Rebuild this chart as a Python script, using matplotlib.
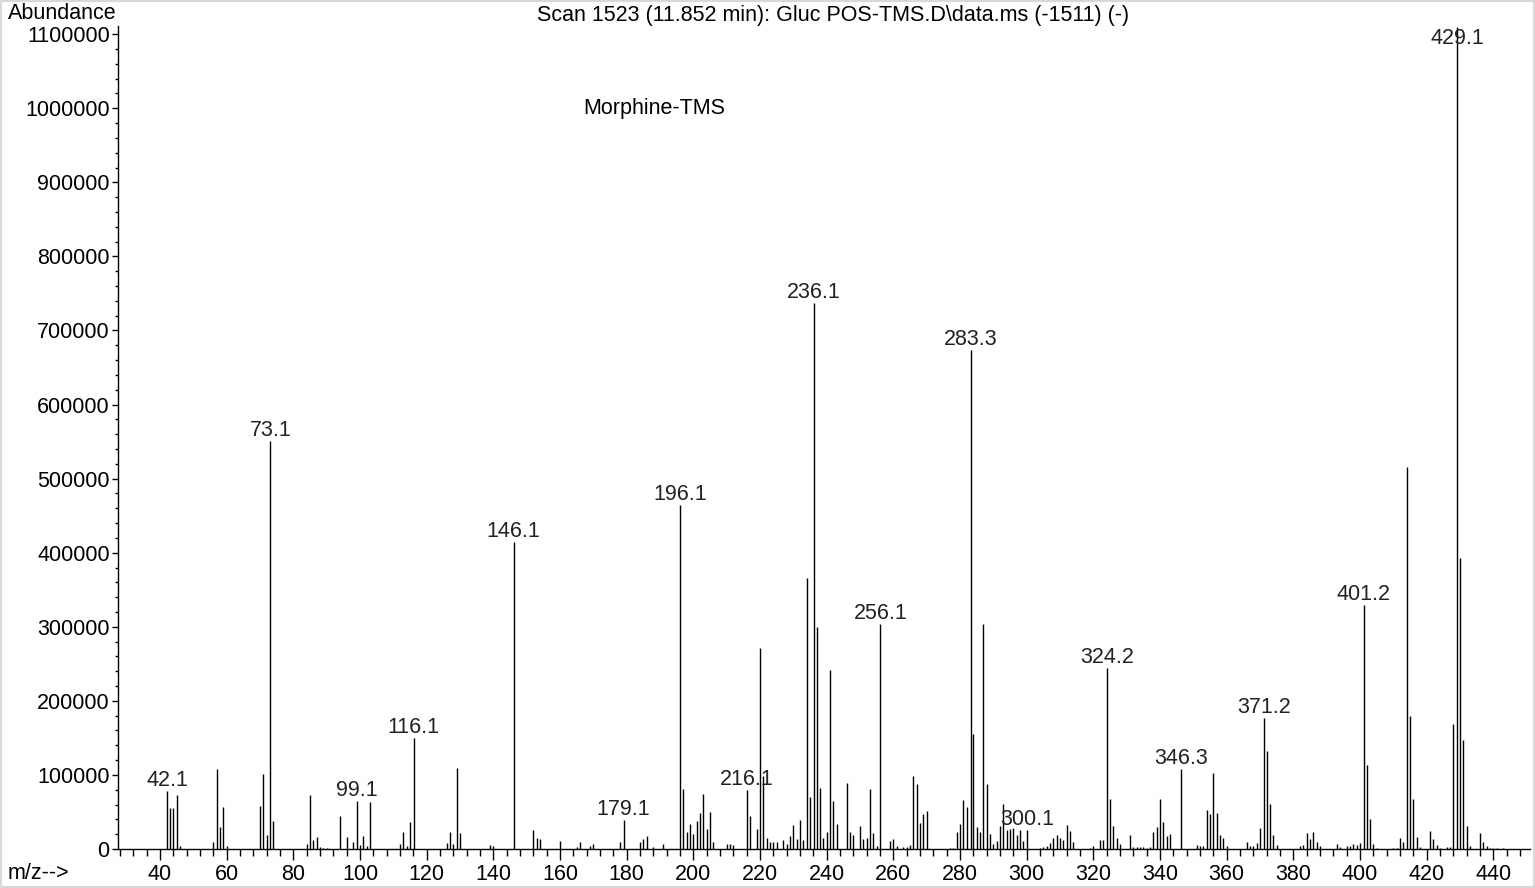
import numpy as np
import matplotlib.pyplot as plt
from matplotlib.ticker import MultipleLocator, FixedLocator

plt.rcParams['font.family'] = ['Liberation Sans', 'DejaVu Sans']

# centroid m/z and abundance of each ion in the scan
mz = [42.1, 43, 44, 45, 46,
      56, 57, 58, 59, 60,
      70, 71, 72, 73.1, 74,
      84, 85, 86, 87, 88, 89, 90,
      94, 96, 98, 99.1, 100, 101, 102, 103,
      112, 113, 114, 115, 116.1,
      126, 127, 128, 129, 130,
      139, 140, 146.1, 152, 153, 154, 160, 165, 166, 169, 170,
      178, 179.1, 184, 185, 186, 188, 191,
      196.1, 197, 198, 199, 200, 201, 202, 203, 204, 205, 206,
      210, 211, 212, 216.1, 217, 219, 220, 221, 222, 223, 224, 225,
      227, 228, 229, 230, 231, 232, 233, 234, 235, 236.1, 237, 238, 239, 240,
      241, 242, 243, 246, 247, 248, 250, 251, 252, 253, 254, 255, 256.1,
      259, 260, 261, 263, 264, 265, 266, 267, 268, 269, 270, 274, 277, 278,
      279, 280, 281, 282, 283.3, 284, 285, 286, 287, 288, 289, 290, 291, 292,
      293, 294, 295, 296, 297, 298, 299, 300.1,
      304, 305, 306, 307, 308, 309, 310, 311, 312, 313, 314, 319, 320, 322, 323,
      324.2, 325, 326, 327, 328, 331, 332, 333, 334, 335, 336, 337,
      338, 339, 340, 341, 342, 343, 346.3,
      351, 352, 353, 354, 355, 356, 357, 358, 359, 360,
      366, 367, 368, 369, 370, 371.2, 372, 373, 374, 375,
      382, 383, 384, 385, 386, 387, 388, 393, 394, 396, 397, 398, 399, 400,
      401.2, 402, 403, 404, 405, 410, 411, 412, 413, 414, 415, 416, 417, 418,
      421, 422, 423, 424, 426, 427, 428, 429.1, 430, 431, 432, 433,
      436, 437, 438, 439, 440, 441, 443]
abundance = [78000, 55800, 54900, 72900, 4500,
             9400, 107500, 30200, 56700, 4000,
             58000, 101000, 18500, 551000, 38300,
             6700, 72500, 12200, 15800, 2300, 900, 900,
             44100, 16200, 9000, 64800, 5000, 17100, 4000, 63900,
             6300, 22500, 4500, 36500, 150300,
             8100, 23400, 6300, 108900, 22000,
             5400, 4500, 414000, 25700, 15300, 13500, 11300, 2700, 9400, 4500, 6300,
             9000, 39600, 9000, 13000, 17600, 2700, 6700,
             464000, 81500, 23400, 33300, 20300, 38300, 48600, 73800, 27500, 49500, 9400,
             7200, 7200, 5400, 79700, 44600, 27500, 271000, 99000, 15300, 9900, 9000, 9000,
             12200, 6300, 17100, 32400, 14000, 39200, 12600, 366000, 70200, 737000, 299700, 82400, 15300, 23400,
             242100, 64800, 33800, 88700, 23400, 18500, 30600, 13500, 14900, 81500, 21600, 4500, 304000,
             10400, 13500, 4500, 2300, 2300, 5000, 98600, 88200, 35600, 47300, 51300, 450, 1400, 1400,
             23400, 34200, 65700, 57200, 673600, 155700, 30200, 23400, 303800, 87300, 20700, 6300, 10800, 30600,
             61200, 25200, 27500, 28400, 18500, 26100, 10800, 26100,
             1800, 2700, 4500, 8100, 15300, 19400, 14400, 12600, 32900, 24300, 9000, 1800, 3600, 12200, 12200,
             244000, 67100, 30600, 14400, 6300, 18900, 2700, 2700, 2700, 2700, 1800, 2700,
             23000, 29700, 67100, 36500, 17600, 20300, 108000,
             5400, 4000, 4000, 53100, 47700, 102600, 48600, 19400, 15300, 4000,
             9000, 4500, 4000, 8100, 28400, 177300, 132300, 60300, 19400, 5400,
             4000, 5900, 21200, 13500, 23000, 9000, 4000, 6700, 2700, 4000, 4000, 7200, 5000, 8100,
             329000, 113000, 41000, 7200, 1400, 1400, 1400, 14400, 9900, 515700, 179600, 67100, 16200, 3200,
             23900, 13500, 5000, 1800, 2300, 2300, 168800, 1110000, 392900, 147200, 30600, 4500,
             21200, 9000, 4500, 1800, 900, 900, 900]

# peaks that carry an m/z label
labelled = [42.1, 73.1, 99.1, 116.1, 146.1, 179.1, 196.1, 216.1, 236.1, 256.1,
            283.3, 300.1, 324.2, 346.3, 371.2, 401.2, 429.1]

xmin, xmax = 27.4, 451
ymax = 1111000
fs = 15.5

fig = plt.figure(figsize=(15.35, 8.88), dpi=100)
ax = fig.add_axes([0.0769, 0.0439, 0.9198, 0.9268])

ax.vlines(mz, 0, abundance, color='black', lw=1.0)

for m in labelled:
    v = abundance[mz.index(m)]
    ax.annotate(f"{m:.1f}", xy=(m, min(v, ymax * 0.972)), xytext=(0, 3.5),
                textcoords='offset points', ha='center', va='baseline',
                fontsize=fs, color='#222222')

ax.set_xlim(xmin, xmax)
ax.set_ylim(0, ymax)
for s in ['top', 'right']:
    ax.spines[s].set_visible(False)
for s in ['left', 'bottom']:
    ax.spines[s].set_linewidth(1.0)

ax.xaxis.set_major_locator(FixedLocator(np.arange(40, 441, 20)))
ax.xaxis.set_minor_locator(MultipleLocator(4))
ax.yaxis.set_major_locator(FixedLocator(np.arange(0, 1100001, 100000)))
ax.yaxis.set_minor_locator(MultipleLocator(20000))
ax.set_yticklabels([f"{int(t)}" for t in np.arange(0, 1100001, 100000)])
ax.tick_params(axis='x', which='major', length=8, width=1, labelsize=fs, pad=3)
ax.tick_params(axis='x', which='minor', length=5, width=1)
ax.tick_params(axis='y', which='major', length=4, width=1, labelsize=fs, pad=2)
ax.tick_params(axis='y', which='minor', length=2.5, width=1)

fig.text(0.005, 0.985, "Abundance", fontsize=fs, ha='left', va='center')
fig.text(0.005, 0.016, "m/z-->", fontsize=fs, ha='left', va='center')
fig.text(0.543, 0.983, "Scan 1523 (11.852 min): Gluc POS-TMS.D\\data.ms (-1511) (-)",
         fontsize=fs, ha='center', va='center')
fig.text(0.38, 0.878, "Morphine-TMS", fontsize=fs, ha='left', va='center')

fig.patches.append(plt.Rectangle((0.0005, 0.001), 0.999, 0.998, transform=fig.transFigure,
                                 fill=False, edgecolor='#d8d8d8', lw=1.5))

fig.savefig('out.png', dpi=100)
